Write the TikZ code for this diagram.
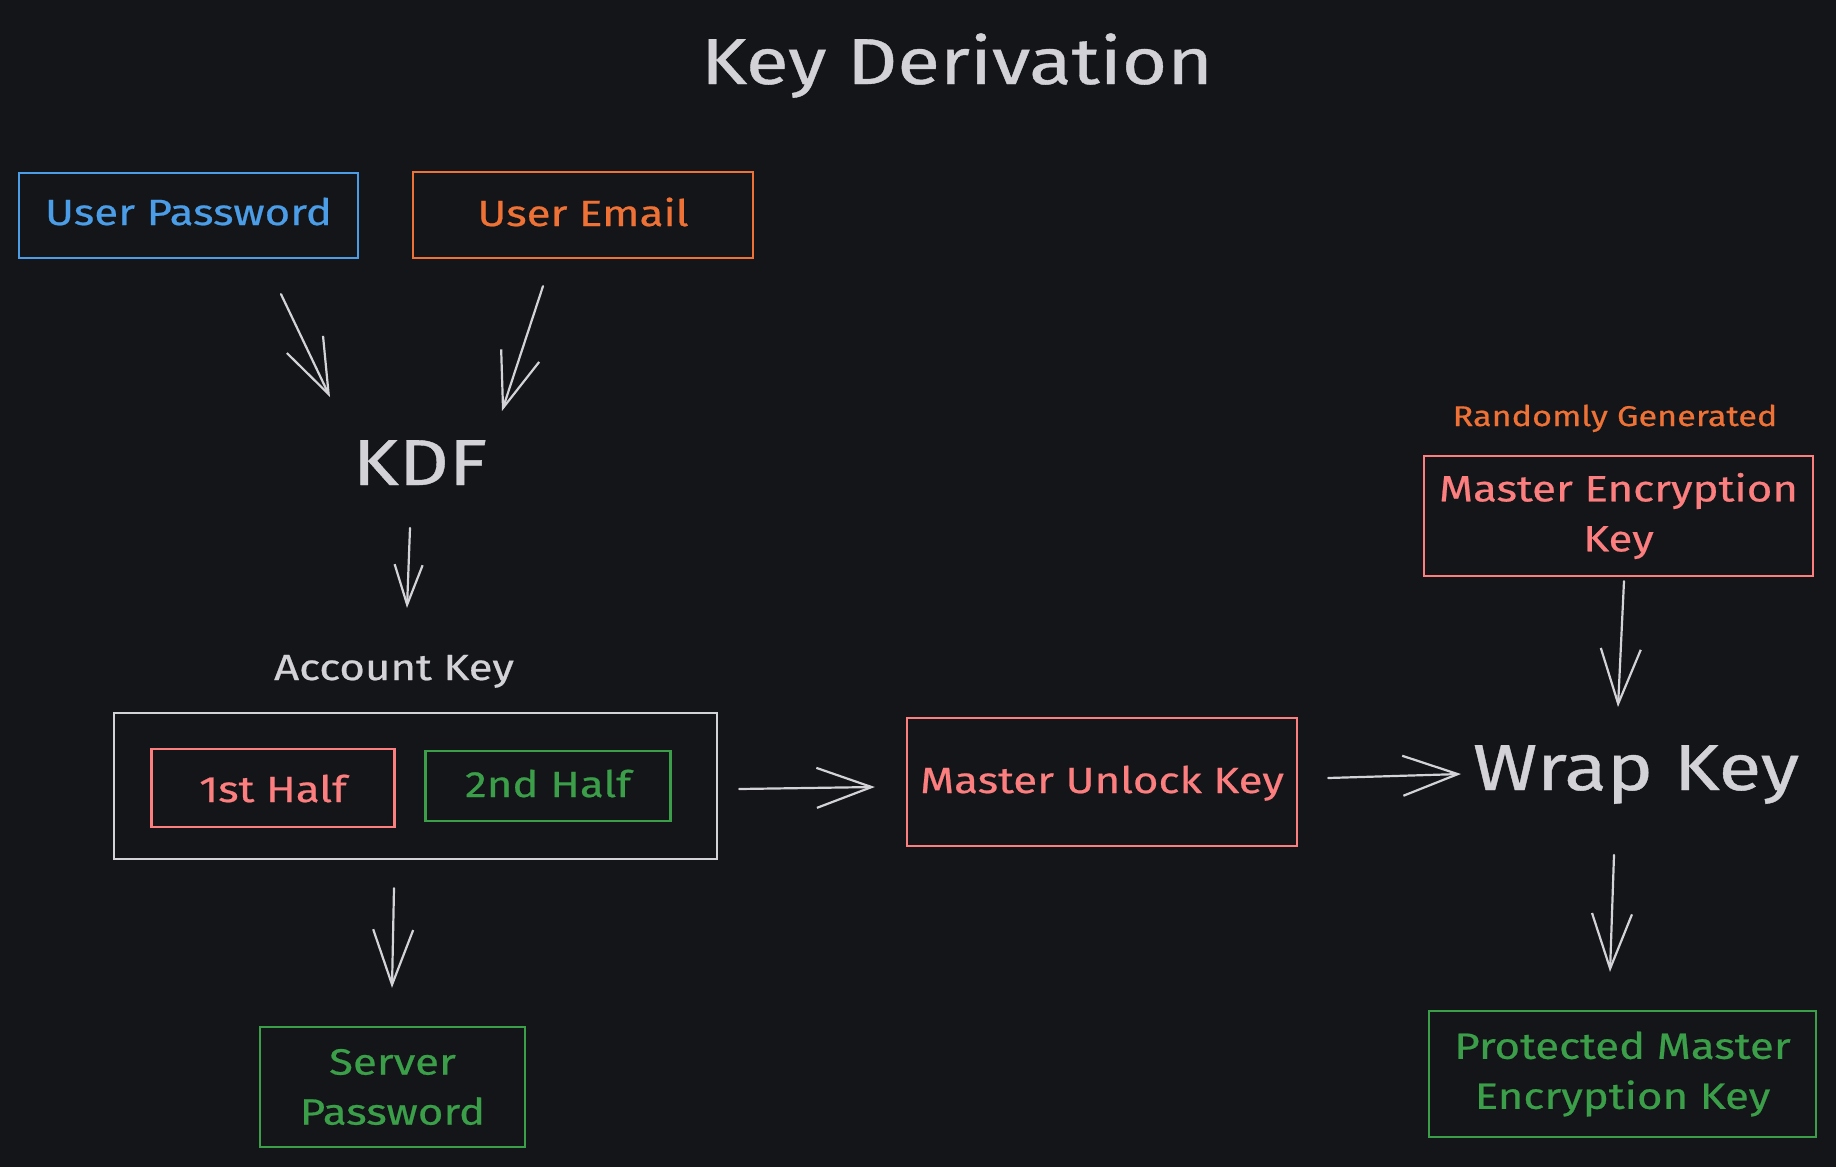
\documentclass[tikz,border=0pt]{standalone}
\usepackage{fontspec}
\setmainfont{Fira Sans}[FakeStretch=1.2,FakeBold=0.6]
\usetikzlibrary{arrows.meta,calc}
\definecolor{bgc}{HTML}{131519}
\definecolor{txt}{HTML}{D3D3D7}
\definecolor{cblue}{HTML}{4A9DE6}
\definecolor{corange}{HTML}{EE7236}
\definecolor{cred}{HTML}{FC7E7E}
\definecolor{cgreen}{HTML}{3B9E48}
\tikzset{
  boxone/.style={draw, line width=2.3pt, inner sep=0pt, font=\fontsize{36.5}{49}\selectfont, text height=28pt, text depth=6pt},
  boxtwo/.style={draw, line width=2.3pt, inner sep=0pt, align=center, font=\fontsize{36.5}{50}\selectfont},
  smalltext/.style={font=\fontsize{36.5}{49}\selectfont, text=txt},
  bigtext/.style={font=\fontsize{65}{80}\selectfont, text=txt},
  arr/.style={draw=txt, line width=2.2pt, line cap=round, -{Straight Barb[length=55pt,width=40pt,line width=2.2pt]}},
  arrshort/.style={draw=txt, line width=2.2pt, line cap=round, -{Straight Barb[length=40pt,width=28pt,line width=2.2pt]}},
}
\begin{document}
\begin{tikzpicture}[x=1pt,y=-1pt]
\fill[bgc] (0,0) rectangle (1836,1167);
\useasboundingbox (0,0) rectangle (1836,1167);

\node[bigtext, anchor=base] (title) at (957,84) {Key Derivation};

\node[boxone, draw=cblue, text=cblue, minimum width=339pt, minimum height=85pt, text height=26pt, text depth=7pt] (up) at (188.5,215.5) {User Password};
\node[boxone, draw=corange, text=corange, minimum width=340pt, minimum height=86pt] (ue) at (583,215) {User Email};

\node[bigtext, anchor=base] (kdf) at (420,485) {KDF};

\node[smalltext, anchor=base] (acclbl) at (394,680) {Account Key};
\node[draw=txt, line width=2.3pt, minimum width=603pt, minimum height=146pt, inner sep=0pt] (acc) at (415.5,786) {};
\node[boxone, draw=cred, text=cred, minimum width=243pt, minimum height=78pt, text height=32pt, text depth=4pt] (h1) at (273,788) {1st Half};
\node[boxone, draw=cgreen, text=cgreen, minimum width=245pt, minimum height=70pt] (h2) at (548,786) {2nd Half};

\node[boxone, draw=cred, text=cred, minimum width=390pt, minimum height=128pt] (muk) at (1102,782) {Master Unlock Key};

\node[bigtext, anchor=base] (wrap) at (1636,790) {Wrap Key};

\node[font=\fontsize{28.5}{36}\selectfont, text=corange, anchor=base] (rand) at (1615,426) {Randomly Generated};
\node[boxtwo, draw=cred, text=cred, minimum width=389pt, minimum height=120pt] (mek) at (1618.5,516) {Master Encryption\\Key};
\node[boxtwo, draw=cgreen, text=cgreen, minimum width=387pt, minimum height=126pt] (pmek) at (1622.5,1074) {Protected Master\\Encryption Key};
\node[boxtwo, draw=cgreen, text=cgreen, minimum width=265pt, minimum height=120pt] (srv) at (392.5,1087) {Server\\Password};

% connectors
\draw[arr] ($(up.south)+(92.5,35)$) -- ($(kdf.base)+(-90,-88)$);
\draw[arr] ($(ue.south)+(-40,27)$) -- ($(kdf.base)+(82,-74)$);
\draw[arrshort] ($(kdf.base)+(-10,43)$) -- ($(acclbl.base)+(13,-72)$);
\draw[arr] ($(acc.east)+(21,3)$) -- ($(muk.west)+(-31,5)$);
\draw[arr] ($(acc.south)+(-21.5,28)$) -- ($(srv.north)+(-0.5,-38)$);
\draw[arr] ($(muk.east)+(30,-4)$) -- ($(wrap.base)+(-175,-16)$);
\draw[arr] ($(mek.south)+(5.5,4)$) -- ($(wrap.base)+(-18,-83)$);
\draw[arr] ($(wrap.base)+(-22,65)$) -- ($(pmek.north)+(-12.5,-38)$);
\end{tikzpicture}
\end{document}
